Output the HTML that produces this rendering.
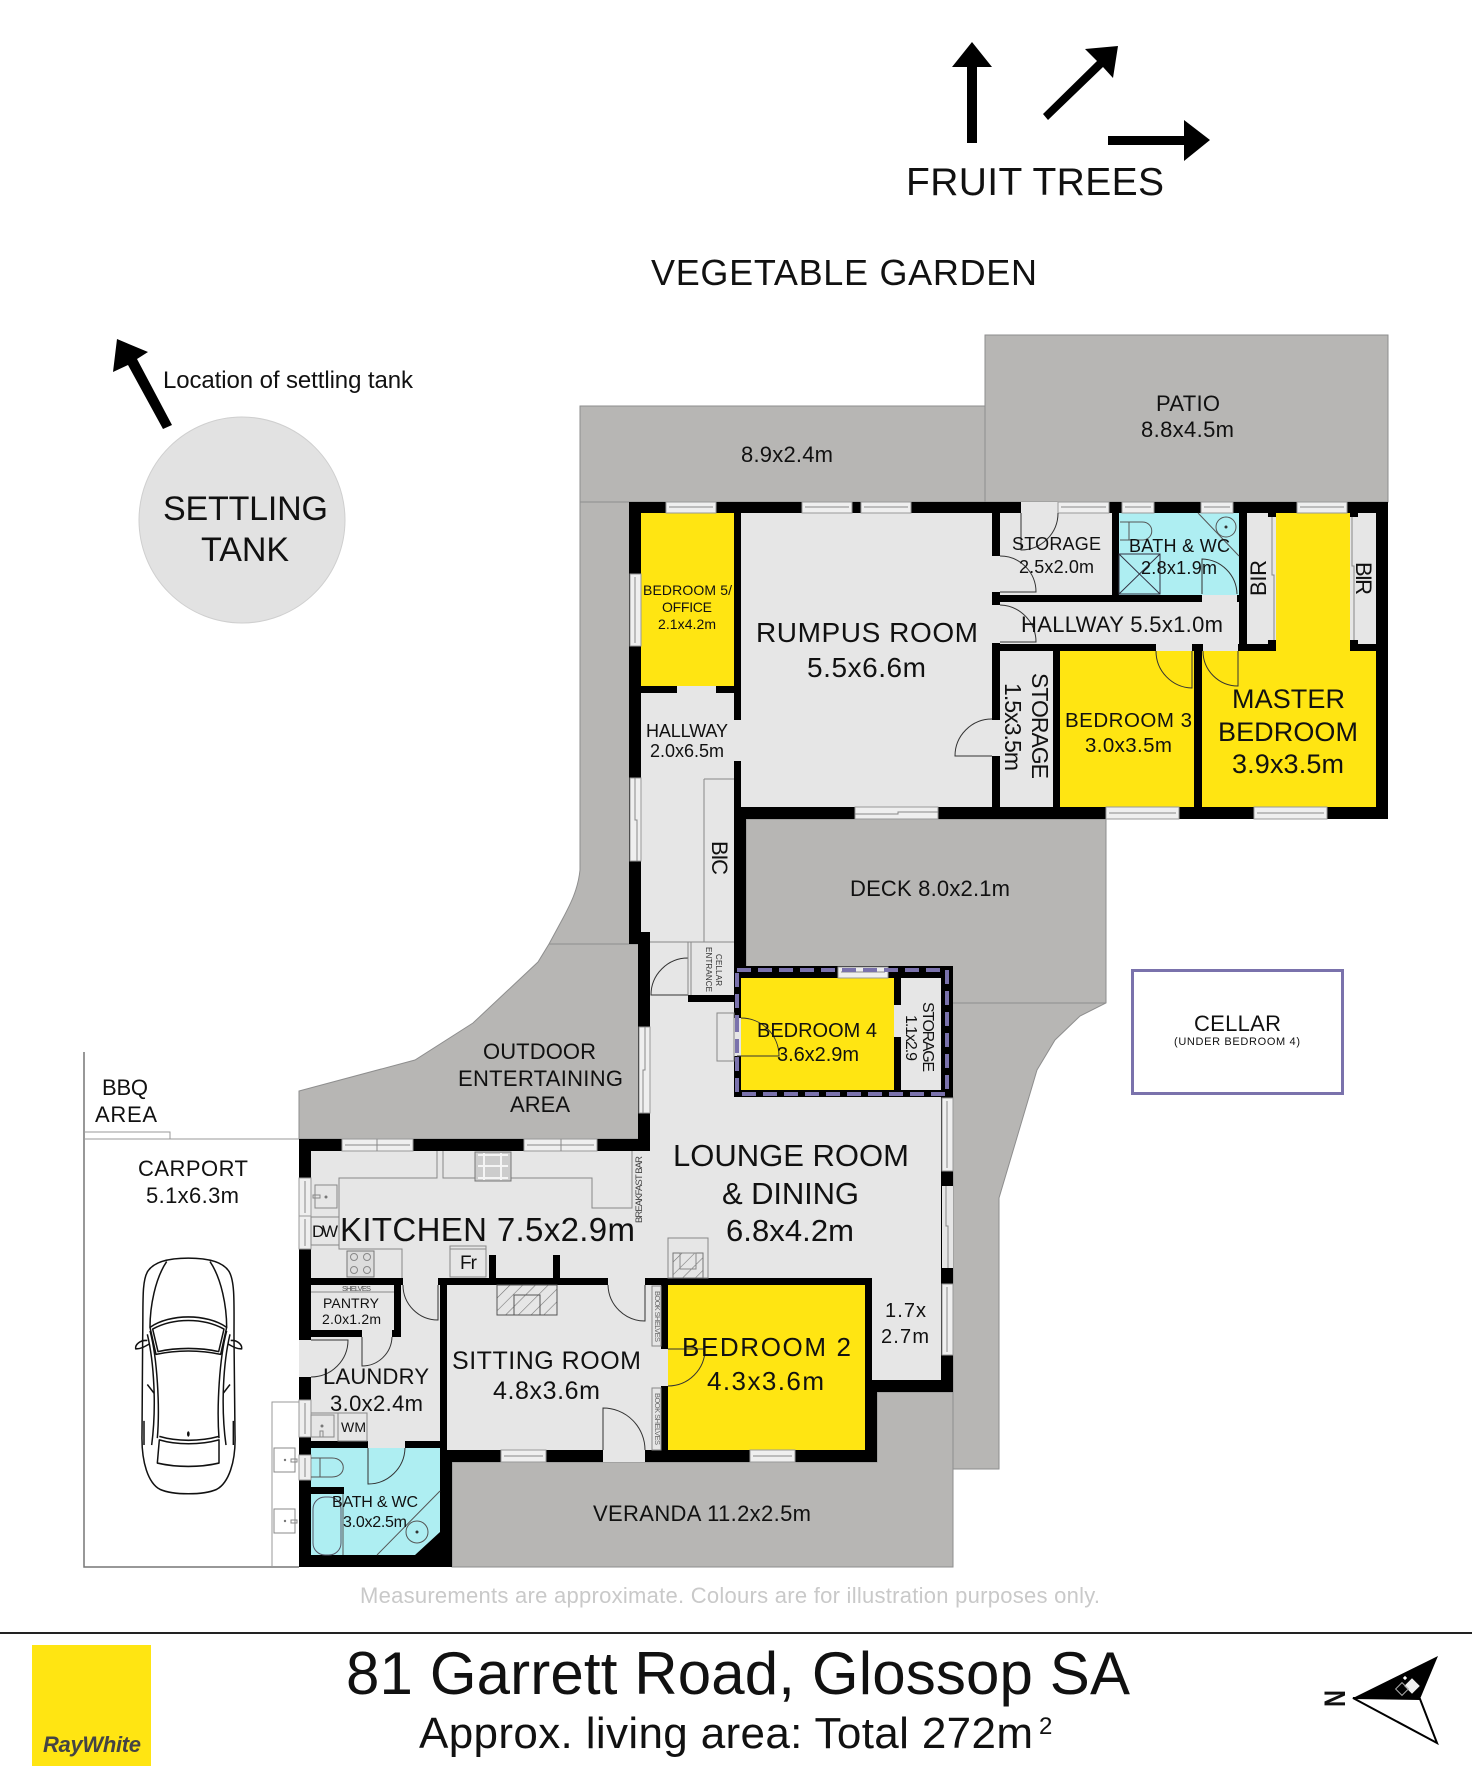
<!DOCTYPE html>
<html><head><meta charset="utf-8"><title>81 Garrett Road floor plan</title>
<style>
html,body{margin:0;padding:0;background:#fff}
svg{display:block}
text{font-family:"Liberation Sans",Arial,sans-serif;fill:#111}
.g{fill:#b7b6b4;stroke:#8e8e8e;stroke-width:1}
.f{fill:#e6e6e6}
.y{fill:#ffe512}
.t{fill:#aeeef2}
.w{fill:#efefef;stroke:#9a9a9a;stroke-width:1}
.l{fill:none;stroke:#555;stroke-width:1}
.m{fill:none;stroke:#888;stroke-width:1}
.d{fill:none;stroke:#333;stroke-width:1}
.c{fill:none;stroke:#111;stroke-width:4.5;stroke-linejoin:round}
</style></head><body>
<svg xmlns="http://www.w3.org/2000/svg" width="1472" height="1781" viewBox="0 0 1472 1781">
<defs>
<pattern id="h" width="9" height="9" patternUnits="userSpaceOnUse" patternTransform="rotate(45)"><rect width="9" height="9" fill="none"/><line x1="0" y1="0" x2="0" y2="9" stroke="#777" stroke-width="1.2"/></pattern>
</defs>
<rect width="1472" height="1781" fill="#fff"/>

<!-- top arrows -->
<path d="M972,42 L992,67 L977,67 L977,143 L967,143 L967,67 L952,67 Z" fill="#000"/>
<path d="M1118,46 L1085,49 L1097,61 L1043,114 L1048,120 L1103,67 L1113,78 Z" fill="#000"/>
<path d="M1108,136 L1184,136 L1184,120 L1210,140 L1184,161 L1184,145 L1108,145 Z" fill="#000"/>
<text x="906" y="195" font-size="39" textLength="258">FRUIT TREES</text>
<text x="651" y="285" font-size="36" textLength="386">VEGETABLE GARDEN</text>

<!-- settling tank -->
<circle cx="242" cy="520" r="103" fill="#e2e2e2" stroke="#cfcfcf" stroke-width="1"/>
<path d="M117,339 L148,352 L137,359 L172,425 L163,429 L128,365 L113,372 Z" fill="#000"/>
<text x="163" y="388" font-size="24" textLength="250">Location of settling tank</text>
<text x="163" y="520" font-size="34" textLength="165">SETTLING</text>
<text x="201" y="561" font-size="34" textLength="88">TANK</text>

<!-- outdoor -->
<rect class="g" x="985" y="335" width="403" height="167"/>
<rect class="g" x="580" y="406" width="405" height="96"/>
<path class="g" d="M580,502 L640,502 L650,944 L650,1139 L299,1139 L299,1091 L415,1060 L473,1023 L538,962 L549,944 L562,920 C570,905 578,890 580,870 Z"/>
<line x1="549" y1="944" x2="638" y2="944" stroke="#8e8e8e"/>
<path class="g" d="M746,819 L1106,819 L1106,1003 L1080,1016 L1055,1040 L1037,1070 L999,1198 L999,1469 L953,1469 L953,1097 L746,1097 Z"/>
<line x1="953" y1="1003" x2="1106" y2="1003" stroke="#8e8e8e"/>
<path class="g" d="M452,1462 L877,1462 L877,1392 L953,1392 L953,1567 L452,1567 Z"/>

<!-- building -->
<path d="M629,502 L1388,502 L1388,819 L746,819 L746,966 L953,966 L953,1392 L877,1392 L877,1462 L452,1462 L452,1567 L299,1567 L299,1139 L638,1139 L638,944 L629,944 Z" fill="#000"/>

<!-- floors -->
<rect class="y" x="641" y="513" width="93" height="173"/>
<rect class="f" x="741" y="513" width="251" height="294"/>
<path class="f" d="M641,693 L734,693 L734,995 L650,995 L650,932 L641,932 Z"/>
<rect class="f" x="677" y="686" width="39" height="7"/>
<rect class="f" x="734" y="720" width="7" height="41"/>
<rect class="f" x="1000" y="513" width="112" height="82"/>
<rect class="t" x="1119" y="513" width="120" height="82"/>
<rect class="f" x="1000" y="602" width="239" height="42"/>
<rect class="f" x="1247" y="513" width="21" height="131"/>
<rect class="f" x="1358" y="513" width="18" height="131"/>
<rect class="f" x="1268" y="517" width="8" height="123"/>
<rect class="f" x="1350" y="517" width="8" height="123"/>
<rect class="y" x="1276" y="513" width="74" height="138"/>
<rect class="y" x="1202" y="651" width="174" height="156"/>
<rect class="y" x="1060" y="651" width="134" height="156"/>
<rect class="f" x="1000" y="651" width="53" height="156"/>
<path class="f" d="M650,1002 L734,1002 L734,1097 L941,1097 L941,1380 L872,1380 L872,1278 L311,1278 L311,1151 L650,1151 Z"/>
<rect class="f" x="650" y="995" width="38" height="7"/>
<rect class="y" x="741" y="978" width="153" height="112"/>
<rect class="f" x="901" y="978" width="40" height="112"/>
<rect class="f" x="894" y="1005" width="7" height="32"/>
<rect class="y" x="668" y="1285" width="197" height="165"/>
<rect class="f" x="447" y="1285" width="214" height="165"/>
<rect class="f" x="661" y="1349" width="7" height="37"/>
<rect class="f" x="311" y="1285" width="83" height="45"/>
<path class="f" d="M401,1285 L440,1285 L440,1441 L311,1441 L311,1337 L401,1337 Z"/>
<rect class="f" x="403" y="1278" width="35" height="7"/>
<rect class="f" x="608" y="1278" width="37" height="7"/>
<rect class="f" x="603" y="1450" width="42" height="12"/>
<rect class="f" x="362" y="1330" width="30" height="7"/>
<rect class="f" x="368" y="1441" width="37" height="7"/>
<path class="t" d="M311,1448 L440,1448 L440,1532 L415,1555 L311,1555 L311,1494 L344,1494 L344,1487 L311,1487 Z"/>
<rect class="f" x="1202" y="595" width="35" height="7"/>
<rect class="f" x="1156" y="644" width="36" height="7"/>
<rect class="f" x="1203" y="644" width="35" height="7"/>
<rect class="f" x="992" y="720" width="8" height="36"/>
<rect class="f" x="992" y="556" width="8" height="36"/>
<rect class="f" x="992" y="605" width="8" height="38"/>

<!-- stubs in kitchen -->
<rect x="489" y="1255" width="7" height="23" fill="#000"/>
<rect x="553" y="1255" width="7" height="23" fill="#000"/>

<!-- windows -->
<g>
<rect class="w" x="666" y="502" width="50" height="11"/><path class="m" d="M669,507 H713"/>
<rect class="w" x="802" y="502" width="50" height="11"/><path class="m" d="M805,507 H849"/>
<rect class="w" x="861" y="502" width="50" height="11"/><path class="m" d="M864,507 H908"/>
<rect class="f" x="1021" y="502" width="37" height="11"/>
<rect class="w" x="1058" y="502" width="51" height="11"/><path class="m" d="M1061,507 H1106"/>
<rect class="w" x="1122" y="502" width="32" height="11"/><path class="m" d="M1125,507 H1151"/>
<rect class="w" x="1201" y="502" width="32" height="11"/><path class="m" d="M1204,507 H1230"/>
<rect class="w" x="1297" y="502" width="50" height="11"/><path class="m" d="M1300,507 H1344"/>
<rect class="w" x="855" y="807" width="83" height="12"/><path class="m" d="M855,814 H898 V812 H938"/>
<rect class="w" x="1106" y="807" width="73" height="12"/><path class="m" d="M1109,813 H1176"/>
<rect class="w" x="1254" y="807" width="73" height="12"/><path class="m" d="M1257,813 H1324"/>
<rect class="w" x="630" y="574" width="11" height="72"/><path class="m" d="M635,577 V643"/>
<rect class="w" x="630" y="778" width="11" height="83"/><path class="m" d="M635,778 V820 H637 V861"/>
<rect class="w" x="639" y="1027" width="11" height="86"/><path class="m" d="M645,1027 V1070 H643 V1113"/>
<rect class="w" x="838" y="967" width="50" height="11"/><path class="m" d="M841,972 H885"/>
<rect class="w" x="942" y="1098" width="11" height="73"/><path class="m" d="M947,1101 V1168"/>
<rect class="f" x="942" y="1186" width="11" height="82"/><path class="m" d="M946,1186 V1226 H948 V1268"/>
<rect class="w" x="942" y="1284" width="11" height="71"/><path class="m" d="M947,1287 V1352"/>
<rect class="w" x="750" y="1450" width="45" height="12"/><path class="m" d="M753,1456 H792"/>
<rect class="w" x="501" y="1450" width="45" height="12"/><path class="m" d="M504,1456 H543"/>
<rect class="w" x="342" y="1139" width="71" height="12"/><path class="m" d="M345,1145 H410 M377,1139 V1151"/>
<rect class="w" x="524" y="1139" width="73" height="12"/><path class="m" d="M527,1145 H594 M561,1139 V1151"/>
<rect class="w" x="299" y="1178" width="12" height="38"/><path class="m" d="M305,1181 V1213"/>
<rect class="w" x="299" y="1216" width="12" height="33"/><path class="m" d="M305,1219 V1246"/>
<rect class="f" x="299" y="1340" width="12" height="37"/>
<rect class="w" x="299" y="1400" width="12" height="37"/><path class="m" d="M305,1403 V1434"/>
<rect class="w" x="299" y="1455" width="12" height="25"/><path class="m" d="M305,1458 V1477"/>
</g>

<!-- purple dashes -->
<rect x="737" y="970" width="210" height="124" fill="none" stroke="#7a72ac" stroke-width="4" stroke-dasharray="14 7"/>
<rect class="f" x="734" y="1018" width="7" height="38"/>
<path d="M737,1018 V1056" stroke="#7a72ac" stroke-width="4" stroke-dasharray="14 7" fill="none"/>

<!-- doors -->
<g class="d">
<path class="d" d="M992,719 A37,37 0 0 0 955,756 L992,756"/>
<path class="d" d="M1000,556 A36,36 0 0 1 1036,592 L1000,592"/>
<path class="d" d="M1000,605 A37,37 0 0 1 1036,642 L1000,642"/>
<path class="d" d="M1021,513 L1021,550 A37,37 0 0 0 1058,513"/>
<path class="d" d="M1202,594 L1202,559 A36,36 0 0 1 1237,594"/>
<path class="d" d="M1156,651 A37,37 0 0 0 1192,688 L1192,651"/>
<path class="d" d="M1238,651 L1238,686 A35,35 0 0 1 1203,651"/>
<path class="d" d="M741,1018 A38,38 0 0 1 779,1056 L737,1056"/>
<path class="d" d="M688,958 A37,37 0 0 0 651,995 L688,995 Z"/>
<path class="d" d="M403,1285 A35,35 0 0 0 438,1320 L438,1285"/>
<path class="d" d="M608,1285 A37,37 0 0 0 645,1321 L645,1285"/>
<path class="d" d="M603,1450 L603,1408 A42,42 0 0 1 645,1450"/>
<path class="d" d="M362,1337 L362,1366 A30,30 0 0 0 392,1337"/>
<path class="d" d="M311,1340 L348,1340 A37,37 0 0 1 311,1377"/>
<path class="d" d="M368,1448 L368,1484 A37,37 0 0 0 405,1448"/>
<path class="d" d="M668,1349 L705,1349 A37,37 0 0 1 668,1386"/>
</g>

<!-- fixtures -->
<g>
<path class="m" d="M437,1151 V1178 H339 V1249 H402 V1278"/>
<path class="m" d="M443,1151 V1178 H592 V1208 H632 V1151"/>
<rect x="475" y="1152" width="36" height="29" fill="#ccc" stroke="#777"/>
<path d="M478,1155 H508 M478,1166 H508 M478,1178 H508 M484,1153 V1180 M501,1153 V1180" stroke="#f4f4f4" stroke-width="2" fill="none"/>
<rect x="347" y="1251" width="27" height="26" fill="#ddd" stroke="#777"/>
<circle cx="354" cy="1257" r="3.500" class="m"/><circle cx="367" cy="1257" r="3.500" class="m"/><circle cx="354" cy="1270" r="3.500" class="m"/><circle cx="367" cy="1270" r="3.500" class="m"/>
<rect class="m" x="315" y="1185" width="22" height="23"/><circle cx="326" cy="1197" r="1.500" fill="#777"/><rect class="m" x="313" y="1195" width="7" height="3"/>
<rect class="m" x="311" y="1217" width="28" height="28"/>
<rect class="m" x="450" y="1246" width="36" height="31"/><path class="m" d="M450,1249 H486"/>
<rect class="m" x="668" y="1238" width="40" height="40"/>
<rect x="673" y="1253" width="30" height="25" fill="url(#h)" stroke="#777"/>
<rect x="680" y="1253" width="16" height="16" fill="none" stroke="#888"/>
<rect x="497" y="1285" width="60" height="30" fill="url(#h)" stroke="#555"/>
<rect x="514" y="1295" width="26" height="20" fill="none" stroke="#555"/>
<path class="m" d="M311,1292 H394"/>
<rect class="m" x="652" y="1286" width="9" height="60"/>
<rect class="m" x="652" y="1388" width="9" height="62"/>
<path class="m" d="M704,779 H734 M704,779 V942 M650,942 H734 M688,942 V995 M691,942 V995"/>
<rect class="m" x="717" y="1013" width="17" height="48"/>
<path class="m" d="M1272,517 V575 H1274 V640 M1352,517 V566 H1354 V640"/>
<rect x="1268" y="513" width="8" height="4" fill="#000"/><rect x="1268" y="640" width="8" height="4" fill="#000"/>
<rect x="1350" y="513" width="8" height="4" fill="#000"/><rect x="1350" y="640" width="8" height="4" fill="#000"/>
<!-- upper bath -->
<path class="l" d="M1120,522 H1142 C1155,522 1155,540 1142,540 H1120 M1129,522 V540"/>
<path d="M1119,554 H1160 V594 H1119 Z M1119,554 L1160,594 M1160,554 L1119,594" fill="none" stroke="#334"/>
<circle cx="1226" cy="527" r="10" class="l"/><circle cx="1226" cy="527" r="1.500" fill="#333"/>
<path class="l" d="M1198,513 L1239,556"/>
<!-- laundry -->
<rect class="m" x="311" y="1415" width="23" height="22"/>
<path class="m" d="M311,1413 H338 V1441"/>
<rect class="m" x="338" y="1413" width="29" height="28"/>
<circle cx="322" cy="1426" r="1.500" fill="#777"/><rect class="m" x="320" y="1431" width="3" height="6"/>
<!-- lower bath -->
<path class="l" d="M311,1458 H332 C347,1458 347,1477 332,1477 H311 M320,1458 V1477"/>
<rect x="313" y="1497" width="28" height="58" rx="12" fill="none" stroke="#556"/>
<path class="l" d="M343,1494 V1555"/>
<path class="l" d="M377,1555 L440,1491"/>
<circle cx="417" cy="1532" r="11" class="l"/><circle cx="417" cy="1532" r="1.500" fill="#333"/>
<!-- carport -->
<path d="M84,1052 V1567 H299" fill="none" stroke="#777" stroke-width="1.500"/>
<path d="M84,1139 H299 M84,1132 H170 V1139" fill="none" stroke="#999" stroke-width="1"/>
<path d="M299,1402 H272 V1567" fill="none" stroke="#999"/>
<rect class="m" x="274" y="1448" width="21" height="24"/><circle cx="285" cy="1460" r="1.200" fill="#777"/><rect class="m" x="291" y="1459" width="6" height="3"/>
<rect class="m" x="274" y="1509" width="21" height="24"/><circle cx="285" cy="1521" r="1.200" fill="#777"/><rect class="m" x="291" y="1520" width="6" height="3"/>
</g>

<!-- car -->
<g transform="translate(70,1040) scale(0.33333,0.3462)">
<path class="c" d="M355,630 C300,630 250,640 232,670 C215,700 220,760 218,860 L216,1140 C214,1220 235,1280 270,1298 C310,1315 400,1315 440,1298 C475,1280 498,1220 495,1140 L492,860 C492,760 495,700 478,670 C460,640 410,630 355,630 Z"/>
<path class="c" d="M240,830 C300,790 410,790 470,830 L452,908 C390,895 320,895 258,908 Z"/>
<path class="c" d="M248,835 C310,802 400,802 462,835 L446,900 C390,888 320,888 264,900 Z"/>
<path class="c" d="M268,1155 C320,1170 390,1170 447,1155 L447,1222 C390,1235 320,1235 262,1222 Z"/>
<path class="c" d="M268,1145 C320,1160 390,1160 447,1145"/>
<path class="c" d="M290,640 C255,690 240,770 240,830 M420,640 C455,690 470,770 470,830"/>
<path class="c" d="M240,840 C262,920 270,1060 262,1150 M470,840 C448,920 440,1060 447,1150"/>
<path class="c" d="M232,850 C252,930 260,1060 245,1170 M480,850 C460,930 452,1060 468,1170"/>
<path class="c" d="M232,868 C210,866 195,880 197,892 C212,893 225,885 238,878 M482,868 C502,866 517,880 515,892 C500,893 487,885 474,878"/>
<path class="c" d="M232,995 L252,1020 M480,995 L460,1020"/>
<path class="c" d="M222,1100 L222,1170 M490,1100 L490,1170"/>
<ellipse cx="355" cy="1138" rx="4" ry="8" fill="#111"/>
</g>

<!-- labels -->
<text x="741" y="462" font-size="22" textLength="92">8.9x2.4m</text>
<text x="1156" y="411" font-size="22" textLength="64">PATIO</text>
<text x="1141" y="437" font-size="22" textLength="93">8.8x4.5m</text>
<text x="643" y="595" font-size="14" textLength="89">BEDROOM 5/</text>
<text x="662" y="612" font-size="14" textLength="50">OFFICE</text>
<text x="658" y="629" font-size="14" textLength="58">2.1x4.2m</text>
<text x="756" y="642" font-size="28" textLength="222">RUMPUS ROOM</text>
<text x="807" y="677" font-size="28" textLength="119">5.5x6.6m</text>
<text x="646" y="737" font-size="18" textLength="82">HALLWAY</text>
<text x="650" y="757" font-size="18" textLength="74">2.0x6.5m</text>
<text x="1012" y="550" font-size="18" textLength="89">STORAGE</text>
<text x="1019" y="573" font-size="18" textLength="75">2.5x2.0m</text>
<text x="1129" y="552" font-size="18" textLength="101">BATH &amp; WC</text>
<text x="1141" y="574" font-size="18" textLength="76">2.8x1.9m</text>
<text x="1021" y="632" font-size="22" textLength="202">HALLWAY 5.5x1.0m</text>
<text transform="translate(1266,596) rotate(-90)" font-size="22" textLength="36">BIR</text>
<text transform="translate(1356,562) rotate(90)" font-size="22" textLength="33">BIR</text>
<text transform="translate(1032,673) rotate(90)" font-size="23" textLength="106">STORAGE</text>
<text transform="translate(1005,683) rotate(90)" font-size="23" textLength="88">1.5x3.5m</text>
<text x="1065" y="727" font-size="20.500" textLength="127">BEDROOM 3</text>
<text x="1085" y="752" font-size="20.500" textLength="87">3.0x3.5m</text>
<text x="1232" y="708" font-size="27" textLength="113">MASTER</text>
<text x="1218" y="741" font-size="27" textLength="140">BEDROOM</text>
<text x="1232" y="773" font-size="27" textLength="112">3.9x3.5m</text>
<text transform="translate(712,841) rotate(90)" font-size="22" textLength="34">BIC</text>
<text x="850" y="896" font-size="22" textLength="160">DECK 8.0x2.1m</text>
<text transform="translate(716,954) rotate(90)" font-size="8" textLength="32" style="fill:#333">CELLAR</text>
<text transform="translate(706,947) rotate(90)" font-size="8" textLength="45" style="fill:#333">ENTRANCE</text>
<text x="757" y="1037" font-size="20" textLength="120">BEDROOM 4</text>
<text x="777" y="1061" font-size="20" textLength="82">3.6x2.9m</text>
<text transform="translate(923,1002) rotate(90)" font-size="16" textLength="70">STORAGE</text>
<text transform="translate(906,1015) rotate(90)" font-size="16" textLength="46">1.1x2.9</text>
<text x="673" y="1166" font-size="31" textLength="236">LOUNGE ROOM</text>
<text x="722" y="1204" font-size="31" textLength="137">&amp; DINING</text>
<text x="726" y="1241" font-size="31" textLength="128">6.8x4.2m</text>
<text transform="translate(642,1223) rotate(-90)" font-size="9.500" textLength="67" style="fill:#444">BREAKFAST BAR</text>
<text x="885" y="1317" font-size="20" textLength="41">1.7x</text>
<text x="881" y="1343" font-size="20" textLength="48">2.7m</text>
<text x="682" y="1356" font-size="26" textLength="169">BEDROOM 2</text>
<text x="707" y="1390" font-size="26" textLength="117">4.3x3.6m</text>
<text x="593" y="1521" font-size="22" textLength="218">VERANDA 11.2x2.5m</text>
<text transform="translate(655,1291) rotate(90)" font-size="7.500" textLength="51" style="fill:#666">BOOK SHELVES</text>
<text transform="translate(655,1393) rotate(90)" font-size="7.500" textLength="52" style="fill:#666">BOOK SHELVES</text>
<text x="340" y="1241" font-size="33" textLength="295">KITCHEN 7.5x2.9m</text>
<text x="312" y="1237" font-size="17" textLength="26">DW</text>
<text x="460" y="1269" font-size="19" textLength="17">Fr</text>
<text x="342" y="1291" font-size="7.500" textLength="29" style="fill:#555">SHELVES</text>
<text x="323" y="1308" font-size="14" textLength="56">PANTRY</text>
<text x="322" y="1324" font-size="14" textLength="59">2.0x1.2m</text>
<text x="323" y="1384" font-size="22" textLength="106">LAUNDRY</text>
<text x="330" y="1411" font-size="22" textLength="93">3.0x2.4m</text>
<text x="341" y="1432" font-size="14" textLength="25">WM</text>
<text x="452" y="1369" font-size="25" textLength="189">SITTING ROOM</text>
<text x="493" y="1399" font-size="25" textLength="107">4.8x3.6m</text>
<text x="332" y="1507" font-size="16" textLength="86">BATH &amp; WC</text>
<text x="343" y="1527" font-size="16" textLength="64">3.0x2.5m</text>
<text x="102" y="1095" font-size="22" textLength="46">BBQ</text>
<text x="95" y="1122" font-size="22" textLength="62">AREA</text>
<text x="138" y="1176" font-size="22" textLength="110">CARPORT</text>
<text x="146" y="1203" font-size="22" textLength="93">5.1x6.3m</text>
<text x="483" y="1059" font-size="22" textLength="113">OUTDOOR</text>
<text x="458" y="1086" font-size="22" textLength="165">ENTERTAINING</text>
<text x="510" y="1112" font-size="22" textLength="60">AREA</text>

<!-- cellar -->
<rect x="1132.500" y="970.500" width="210" height="123" fill="none" stroke="#7a72ac" stroke-width="3"/>
<text x="1194" y="1031" font-size="22" textLength="87">CELLAR</text>
<text x="1174" y="1045" font-size="11" textLength="126">(UNDER BEDROOM 4)</text>

<!-- footer -->
<text x="360" y="1603" font-size="22" textLength="740" style="fill:#c9c9c9">Measurements are approximate. Colours are for illustration purposes only.</text>
<rect x="0" y="1632" width="1472" height="2" fill="#222"/>
<rect x="32" y="1645" width="119" height="121" fill="#ffe512"/>
<text x="43" y="1752" font-size="22" font-weight="bold" font-style="italic" textLength="98" style="fill:#444">RayWhite</text>
<text x="346" y="1694" font-size="60" textLength="784">81 Garrett Road, Glossop SA</text>
<text x="419" y="1748" font-size="44" textLength="614">Approx. living area: Total 272m</text>
<text x="1039" y="1734" font-size="24">2</text>

<!-- compass -->
<path d="M1353,1698 L1438,1656 L1420,1699 Z" fill="#000"/>
<path d="M1353,1698 L1420,1699 L1437,1743 Z" fill="#fff" stroke="#000" stroke-width="2"/>
<rect x="1406.500" y="1680.500" width="11" height="11" fill="#eee" transform="rotate(45 1412 1686)"/>
<rect x="1397.500" y="1684.500" width="9" height="9" fill="none" stroke="#aaa" transform="rotate(45 1402 1689)"/>
<rect x="1403.500" y="1676.500" width="3" height="3" fill="#fff" transform="rotate(45 1405 1678)"/>
<text transform="translate(1345,1707) rotate(-90)" font-size="30" font-weight="bold" textLength="17" lengthAdjust="spacingAndGlyphs">N</text>
</svg>
</body></html>
